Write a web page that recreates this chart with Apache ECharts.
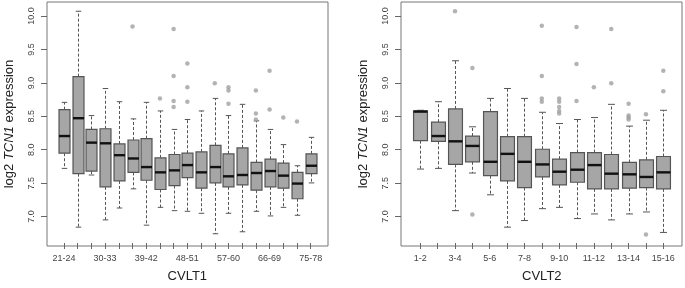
<!DOCTYPE html>
<html>
<head>
<meta charset="utf-8">
<script src="https://cdn.jsdelivr.net/npm/echarts@6/dist/echarts.min.js"></script>
<style>
html,body{margin:0;padding:0;background:#fff;}
#chart{width:685px;height:288px;}
</style>
</head>
<body>
<div id="chart"></div>
<script>
// ---- data ----
const cvlt1Categories = ['21-24','24-27','27-30','30-33','33-36','36-39','39-42','42-45','45-48','48-51','51-54','54-57','57-60','60-63','63-66','66-69','69-72','72-75','75-78'];
const cvlt1Low    = [7.69, 6.80, 7.59, 6.91, 7.09, 7.38, 6.83, 7.10, 7.05, 7.04, 7.01, 6.70, 7.01, 6.73, 7.04, 6.97, 7.10, 6.98, 7.47];
const cvlt1Q1     = [7.92, 7.61, 7.65, 7.41, 7.50, 7.63, 7.51, 7.37, 7.43, 7.55, 7.39, 7.47, 7.41, 7.44, 7.36, 7.41, 7.39, 7.23, 7.61];
const cvlt1Median = [8.18, 8.45, 8.08, 8.07, 7.89, 7.84, 7.71, 7.63, 7.66, 7.74, 7.63, 7.71, 7.57, 7.59, 7.62, 7.65, 7.58, 7.46, 7.73];
const cvlt1Q3     = [8.58, 9.08, 8.28, 8.29, 8.06, 8.12, 8.14, 7.85, 7.90, 7.92, 7.94, 8.04, 7.91, 8.00, 7.78, 7.83, 7.77, 7.63, 7.91];
const cvlt1High   = [8.69, 10.07, 8.49, 8.90, 8.70, 8.44, 8.69, 8.56, 8.28, 8.43, 8.56, 8.75, 8.49, 8.66, 8.41, 8.28, 8.05, 7.73, 8.16];
const cvlt1Outliers = [[], [], [], [], [], [9.84], [], [8.75], [9.80, 9.09, 8.71, 8.62], [9.28, 8.92, 8.70], [], [8.98], [8.92, 8.87, 8.67], [], [8.87, 8.52, 8.43], [9.17, 8.58], [8.46], [8.40], []];

const cvlt2Categories = ['1-2','2-3','3-4','4-5','5-6','6-7','7-8','8-9','9-10','10-11','11-12','12-13','13-14','14-15','15-16'];
const cvlt2Low    = [7.68, 7.69, 7.05, 7.62, 7.29, 6.80, 6.90, 7.08, 7.10, 6.93, 7.00, 6.91, 7.00, 7.03, 6.72];
const cvlt2Q1     = [8.11, 8.10, 7.75, 7.79, 7.58, 7.50, 7.40, 7.56, 7.44, 7.48, 7.38, 7.38, 7.39, 7.40, 7.38];
const cvlt2Median = [8.55, 8.18, 8.10, 8.03, 7.79, 7.91, 7.79, 7.75, 7.64, 7.67, 7.74, 7.61, 7.60, 7.56, 7.63];
const cvlt2Q3     = [8.56, 8.39, 8.59, 8.18, 8.55, 8.17, 8.17, 7.98, 7.83, 7.93, 7.93, 7.90, 7.78, 7.82, 7.87];
const cvlt2High   = [8.57, 8.70, 9.32, 8.32, 8.75, 8.90, 8.75, 8.54, 8.37, 8.43, 8.46, 8.66, 8.33, 8.42, 8.57];
const cvlt2Outliers = [[], [], [10.07], [9.21, 6.99], [], [], [], [9.85, 9.09, 8.75, 8.70], [8.75, 8.70, 8.62, 8.56, 8.52], [9.83, 9.27, 8.71], [8.92], [9.80, 8.98], [8.67, 8.49, 8.46, 8.43], [8.51, 6.69], [9.17, 8.86]];

const yTicks = [7.0, 7.5, 8.0, 8.5, 9.0, 9.5, 10.0];
const yMin = 6.56, yMax = 10.21;

// ---- build ----
function boxData(low, q1, med, q3, high) {
  return low.map((v, i) => [i, v, q1[i], med[i], q3[i], high[i]]);
}
function outlierData(outs) {
  const res = [];
  outs.forEach((arr, i) => arr.forEach(v => res.push([i, v])));
  return res;
}

const FILL = '#a6a6a6', EDGE = '#555555', WHISK = '#555555';
function renderBox(params, api) {
  const i = api.value(0);
  const lo = api.coord([i, api.value(1)]);
  const q1 = api.coord([i, api.value(2)]);
  const md = api.coord([i, api.value(3)]);
  const q3 = api.coord([i, api.value(4)]);
  const hi = api.coord([i, api.value(5)]);
  const band = api.size([1, 0])[0];
  const w = band * 0.8;
  const cw = w * 0.5;
  const x = Math.round(lo[0]) + 0.5;
  const dash = {stroke: WHISK, lineWidth: 1, lineDash: [3, 2]};
  const solid = {stroke: WHISK, lineWidth: 1};
  return {
    type: 'group',
    children: [
      {type: 'line', shape: {x1: x, y1: q3[1], x2: x, y2: hi[1]}, style: dash},
      {type: 'line', shape: {x1: x, y1: q1[1], x2: x, y2: lo[1]}, style: dash},
      {type: 'line', shape: {x1: x - cw / 2, y1: hi[1], x2: x + cw / 2, y2: hi[1]}, style: solid},
      {type: 'line', shape: {x1: x - cw / 2, y1: lo[1], x2: x + cw / 2, y2: lo[1]}, style: solid},
      {type: 'rect', shape: {x: x - w / 2, y: q3[1], width: w, height: q1[1] - q3[1]}, style: {fill: FILL, stroke: EDGE, lineWidth: 1.2}},
      {type: 'line', shape: {x1: x - w / 2, y1: md[1], x2: x + w / 2, y2: md[1]}, style: {stroke: '#111', lineWidth: 2.4}}
    ]
  };
}

const FONT = '"Liberation Sans", Arial, sans-serif';
const LABEL_COLOR = '#444';

function frameAxes(gridIndex) {
  return {
    x: {gridIndex, type: 'value', min: 0, max: 1, show: false},
    y: {
      gridIndex, type: 'value', min: yMin, max: yMax,
      axisLine: {show: false},
      splitLine: {show: false},
      axisTick: {show: true, length: 6, customValues: yTicks, lineStyle: {color: '#666'}},
      axisLabel: {customValues: yTicks, rotate: 90, fontSize: 9, color: LABEL_COLOR, fontFamily: FONT, margin: 11,
                  formatter: v => Number(v).toFixed(1)},
      name: 'log2 {i|TCN1} expression',
      nameLocation: 'middle',
      nameRotate: 90,
      nameGap: 31,
      nameTextStyle: {fontSize: 13, color: '#222', fontFamily: FONT,
        rich: {i: {fontStyle: 'italic', fontSize: 13, color: '#222', fontFamily: FONT}}}
    }
  };
}
function dataAxes(gridIndex, cats, labelInterval, name) {
  return {
    x: {
      gridIndex, type: 'category', data: cats, boundaryGap: true,
      axisLine: {show: false},
      axisTick: {show: true, alignWithLabel: true, interval: 0, length: 6, lineStyle: {color: '#666'}},
      axisLabel: {interval: labelInterval, fontSize: 9, color: LABEL_COLOR, fontFamily: FONT, margin: 11},
      splitLine: {show: false},
      name, nameLocation: 'middle', nameGap: 27,
      nameTextStyle: {fontSize: 13, color: '#222', fontFamily: FONT}
    },
    y: {gridIndex, type: 'value', min: yMin, max: yMax, show: false}
  };
}

const fL = frameAxes(0), dL = dataAxes(1, cvlt1Categories, 2, 'CVLT1');
const fR = frameAxes(2), dR = dataAxes(3, cvlt2Categories, 1, 'CVLT2');

const option = {
  animation: false,
  backgroundColor: '#fff',
  grid: [
    {left: 47, top: 2, width: 281, height: 244, show: true, borderColor: '#777', borderWidth: 1, backgroundColor: 'transparent'},
    {left: 57.15, top: 2, width: 260.4, height: 244},
    {left: 401, top: 2, width: 281, height: 244, show: true, borderColor: '#777', borderWidth: 1, backgroundColor: 'transparent'},
    {left: 411.6, top: 2, width: 260.4, height: 244}
  ],
  xAxis: [fL.x, dL.x, fR.x, dR.x],
  yAxis: [fL.y, dL.y, fR.y, dR.y],
  series: [
    {type: 'custom', xAxisIndex: 1, yAxisIndex: 1, renderItem: renderBox,
     encode: {x: 0, y: [1, 2, 3, 4, 5]},
     data: boxData(cvlt1Low, cvlt1Q1, cvlt1Median, cvlt1Q3, cvlt1High)},
    {type: 'scatter', xAxisIndex: 1, yAxisIndex: 1, symbol: 'circle', symbolSize: 4.5,
     itemStyle: {color: '#a0a0a0'}, data: outlierData(cvlt1Outliers)},
    {type: 'custom', xAxisIndex: 3, yAxisIndex: 3, renderItem: renderBox,
     encode: {x: 0, y: [1, 2, 3, 4, 5]},
     data: boxData(cvlt2Low, cvlt2Q1, cvlt2Median, cvlt2Q3, cvlt2High)},
    {type: 'scatter', xAxisIndex: 3, yAxisIndex: 3, symbol: 'circle', symbolSize: 4.5,
     itemStyle: {color: '#a0a0a0'}, data: outlierData(cvlt2Outliers)}
  ]
};

const chart = echarts.init(document.getElementById('chart'), null, {renderer: 'canvas'});
chart.setOption(option);
</script>
</body>
</html>
